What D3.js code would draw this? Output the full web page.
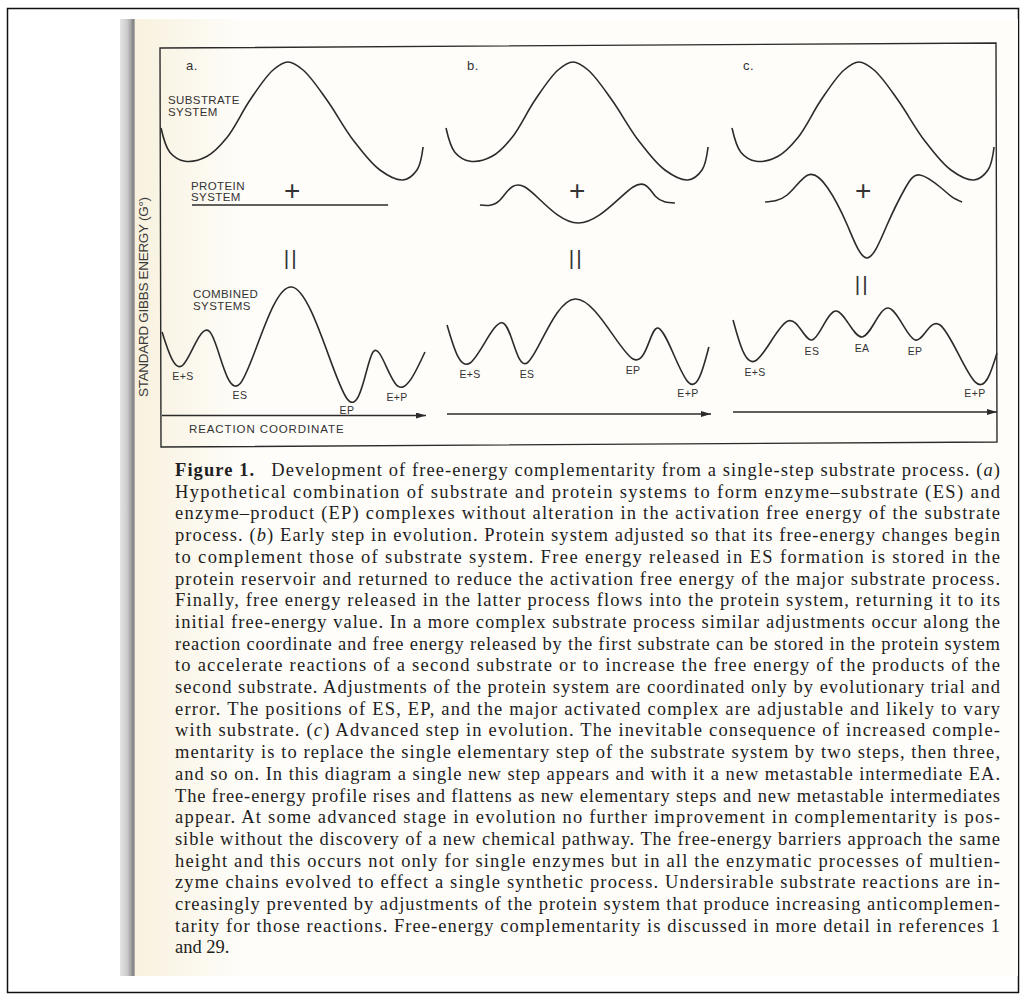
<!DOCTYPE html>
<html>
<head>
<meta charset="utf-8">
<script src="https://cdn.jsdelivr.net/npm/d3@7"></script>
<style>
  body { margin: 0; background: #fff; }
  svg { display: block; }
</style>
</head>
<body>
<script>
// reaction coordinate runs 0..10 across each panel, energies in arbitrary units

// substrate system (same in a, b, c)
var substrate = [[0,45.6],[0.34,26],[0.91,19],[1.74,23],[2.49,38],[3.36,68],[4.23,92],[4.79,98.4],
                 [5.36,92],[6.26,68],[7.25,36],[8.26,12],[9.13,4],[9.66,12],[9.89,30.4]];

// protein system
var proteinA = [[1.17,0],[8.57,0]];
var proteinB = [[1.28,0],[2.04,4],[2.98,14.4],[4.98,-14.4],[7.06,14.4],[7.9,7],[8.64,1.6]];
var proteinC = [[1.25,2.4],[2.08,8],[2.87,24],[3.6,14],[4.35,-16],[5.09,-42.4],[5.85,-16],
                [6.55,14],[7.09,24],[7.85,14.4],[8.3,6.5],[8.68,2.4]];

// combined systems
var combinedA = [[0.04,62.4],[0.83,36],[1.85,62.4],[2.98,21],[4.94,98.4],[7.02,9],[8.0,46.4],[8.91,19.5],[9.96,46.4]];
var combinedB = [[0.04,68],[0.91,37.6],[2.15,69.6],[3.06,37.6],[4.87,88.8],[7.06,40.8],[8.0,65.6],[9.13,22.5],[9.92,50.4]];
var combinedC = [[0.04,72],[0.87,39.2],[2.11,71.2],[3.02,56],[3.92,79.2],[4.91,58.4],[5.89,81.6],
                 [6.91,56],[7.85,68],[9.17,22.5],[10,45.6]];

// well labels: point index in the combined curve and its name
var wellIdxA = [1,3,5,7],     wellNamesA = ["E+S","ES","EP","E+P"];
var wellIdxB = [1,3,5,7],     wellNamesB = ["E+S","ES","EP","E+P"];
var wellIdxC = [1,3,5,7,9],   wellNamesC = ["E+S","ES","EA","EP","E+P"];

var panelTags = ["a.", "b.", "c."];

var captionLines = [
  "**Figure 1.**\u2002 Development of free-energy complementarity from a single-step substrate process. (_a_)",
  "Hypothetical combination of substrate and protein systems to form enzyme\u2013substrate (ES) and",
  "enzyme\u2013product (EP) complexes without alteration in the activation free energy of the substrate",
  "process. (_b_) Early step in evolution. Protein system adjusted so that its free-energy changes begin",
  "to complement those of substrate system. Free energy released in ES formation is stored in the",
  "protein reservoir and returned to reduce the activation free energy of the major substrate process.",
  "Finally, free energy released in the latter process flows into the protein system, returning it to its",
  "initial free-energy value. In a more complex substrate process similar adjustments occur along the",
  "reaction coordinate and free energy released by the first substrate can be stored in the protein system",
  "to accelerate reactions of a second substrate or to increase the free energy of the products of the",
  "second substrate. Adjustments of the protein system are coordinated only by evolutionary trial and",
  "error. The positions of ES, EP, and the major activated complex are adjustable and likely to vary",
  "with substrate. (_c_) Advanced step in evolution. The inevitable consequence of increased comple-",
  "mentarity is to replace the single elementary step of the substrate system by two steps, then three,",
  "and so on. In this diagram a single new step appears and with it a new metastable intermediate EA.",
  "The free-energy profile rises and flattens as new elementary steps and new metastable intermediates",
  "appear. At some advanced stage in evolution no further improvement in complementarity is pos-",
  "sible without the discovery of a new chemical pathway. The free-energy barriers approach the same",
  "height and this occurs not only for single enzymes but in all the enzymatic processes of multien-",
  "zyme chains evolved to effect a single synthetic process. Undersirable substrate reactions are in-",
  "creasingly prevented by adjustments of the protein system that produce increasing anticomplemen-",
  "tarity for those reactions. Free-energy complementarity is discussed in more detail in references 1",
  "and 29."
];

var W = 1026, H = 1001;
var ink = "#2b2b2b";
var sans = "'Liberation Sans', Arial, Helvetica, sans-serif";

var svg = d3.select("body").append("svg")
    .attr("width", W)
    .attr("height", H);

var defs = svg.append("defs");
var spineGrad = defs.append("linearGradient").attr("id", "spine");
[["0%","#e4e4e4"],["45%","#cecece"],["72%","#a6a6a6"],["88%","#7e7e7e"],["100%","#bcbcbc"]]
  .forEach(function(s){ spineGrad.append("stop").attr("offset", s[0]).attr("stop-color", s[1]); });
var paperGrad = defs.append("linearGradient").attr("id", "paper");
paperGrad.append("stop").attr("offset", "0%").attr("stop-color", "#f8f1de");
paperGrad.append("stop").attr("offset", "100%").attr("stop-color", "#fefdfa");

defs.append("marker")
    .attr("id", "head")
    .attr("viewBox", "0 0 10 6")
    .attr("refX", 10).attr("refY", 3)
    .attr("markerWidth", 10).attr("markerHeight", 6)
    .attr("markerUnits", "userSpaceOnUse")
    .attr("orient", "auto")
  .append("path")
    .attr("d", "M0,0L10,3L0,6Z")
    .attr("fill", ink);

// scanned page background
svg.append("rect").attr("x", 7.5).attr("y", 8.5).attr("width", 1011).attr("height", 984)
    .attr("fill", "#fff").attr("stroke", "#111").attr("stroke-width", 1.5);
svg.append("rect").attr("x", 134).attr("y", 19).attr("width", 884).attr("height", 957).attr("fill", "#fefdfa");
svg.append("rect").attr("x", 134).attr("y", 19).attr("width", 110).attr("height", 957).attr("fill", "url(#paper)");
svg.append("rect").attr("x", 120).attr("y", 19).attr("width", 15).attr("height", 957).attr("fill", "url(#spine)");

// figure frame (the scan is slightly tilted)
var frameCorners = [[160, 48], [996, 43], [997, 442], [161, 447]];
svg.append("path")
    .attr("d", d3.line()(frameCorners) + "Z")
    .attr("fill", "none").attr("stroke", ink).attr("stroke-width", 1.4);

svg.append("text")
    .attr("transform", "translate(148,297) rotate(-90)")
    .attr("text-anchor", "middle")
    .attr("font-family", sans).attr("font-size", 13.5)
    .attr("textLength", 200).attr("lengthAdjust", "spacing")
    .attr("fill", "#3a3a3a")
    .text("STANDARD GIBBS ENERGY (G\u00b0)");

var panelLeft = [161, 446, 732], panelWidth = 265;
var ySub = d3.scaleLinear().domain([0, 100]).range([185, 60]);
var yPro = d3.scaleLinear().domain([0, 100]).range([205, 80]);
var yComb = d3.scaleLinear().domain([0, 100]).range([410, 285]);
var arrowY = [415.5, 414, 412];

var proteins = [proteinA, proteinB, proteinC];
var combined = [combinedA, combinedB, combinedC];
var wellIdx = [wellIdxA, wellIdxB, wellIdxC];
var wellNames = [wellNamesA, wellNamesB, wellNamesC];

function label(g, x, y, str, size) {
  return g.append("text")
      .attr("x", x).attr("y", y)
      .attr("font-family", sans)
      .attr("font-size", size || 11.5)
      .attr("letter-spacing", 0.4)
      .attr("fill", "#333")
      .text(str);
}

panelLeft.forEach(function(left, i) {
  var g = svg.append("g").attr("class", "panel");
  var x = d3.scaleLinear().domain([0, 10]).range([left, left + panelWidth]);

  var subLine = d3.line().x(function(d){ return x(d[0]); }).y(function(d){ return ySub(d[1]); })
      .curve(d3.curveCatmullRom.alpha(0.5));
  var proLine = d3.line().x(function(d){ return x(d[0]); }).y(function(d){ return yPro(d[1]); })
      .curve(d3.curveNatural);
  var combLine = d3.line().x(function(d){ return x(d[0]); }).y(function(d){ return yComb(d[1]); })
      .curve(d3.curveNatural);

  g.append("path").datum(substrate).attr("d", subLine)
      .attr("fill", "none").attr("stroke", ink).attr("stroke-width", 1.6);
  g.append("path").datum(proteins[i]).attr("d", proLine)
      .attr("fill", "none").attr("stroke", ink).attr("stroke-width", 1.6);
  g.append("path").datum(combined[i]).attr("d", combLine)
      .attr("fill", "none").attr("stroke", ink).attr("stroke-width", 1.6);

  // panel tag
  label(g, x(0) + 25 + (i === 2 ? -14 : (i === 1 ? -4 : 0)), 70, panelTags[i], 13);

  // "+" and "=" signs between the rows
  var mid = x(4.95);
  g.append("text").attr("x", mid).attr("y", ySub(-8) + 5)
      .attr("text-anchor", "middle").attr("font-family", sans).attr("font-weight", 300)
      .attr("font-size", 28).attr("fill", "#333").text("+");
  g.append("text").attr("x", mid - 1).attr("y", i === 2 ? 291 : 265)
      .attr("text-anchor", "middle").attr("font-family", sans)
      .attr("font-size", 21).attr("letter-spacing", 2).attr("fill", "#333").text("||");

  // well labels below the minima, kept above the arrow
  var pts = combined[i];
  wellIdx[i].forEach(function(k, j) {
    var ly = Math.min(yComb(pts[k][1]) + 15, arrowY[i] - 2);
    label(g, x(pts[k][0]), ly, wellNames[i][j], 10.5)
        .attr("text-anchor", "middle");
  });

  // reaction coordinate arrow
  g.append("line")
      .attr("x1", x(0) + 1).attr("x2", x(10))
      .attr("y1", arrowY[i]).attr("y2", arrowY[i])
      .attr("stroke", ink).attr("stroke-width", 1.3)
      .attr("marker-end", "url(#head)");
});

// row captions in panel a
label(svg, 168, 104, "SUBSTRATE");
label(svg, 168, 116, "SYSTEM");
label(svg, 191, 190, "PROTEIN");
label(svg, 191, 201, "SYSTEM");
label(svg, 193, 298, "COMBINED");
label(svg, 193, 310, "SYSTEMS");
label(svg, 189, 433, "REACTION COORDINATE").attr("letter-spacing", 0.9);

// caption, justified lines
var capX = 175, capRight = 1000, capTop = 476, capStep = 21.7;
var cap = svg.append("g")
    .attr("font-family", "'Liberation Serif', 'Times New Roman', serif")
    .attr("font-size", 18.5)
    .attr("fill", "#1e1e1e");

captionLines.forEach(function(line, i) {
  var t = cap.append("text")
      .attr("x", capX)
      .attr("y", capTop + i * capStep)
      .attr("xml:space", "preserve");
  if (i < captionLines.length - 1) {
    t.attr("textLength", capRight - capX).attr("lengthAdjust", "spacing");
  }
  line.split(/(\*\*[^*]+\*\*|_[^_]+_)/).forEach(function(part) {
    if (!part) return;
    var s = t.append("tspan");
    if (part.indexOf("**") === 0) {
      s.attr("font-weight", "bold").text(part.slice(2, -2));
    } else if (part.charAt(0) === "_") {
      s.attr("font-style", "italic").text(part.slice(1, -1));
    } else {
      s.text(part);
    }
  });
});
</script>
</body>
</html>
